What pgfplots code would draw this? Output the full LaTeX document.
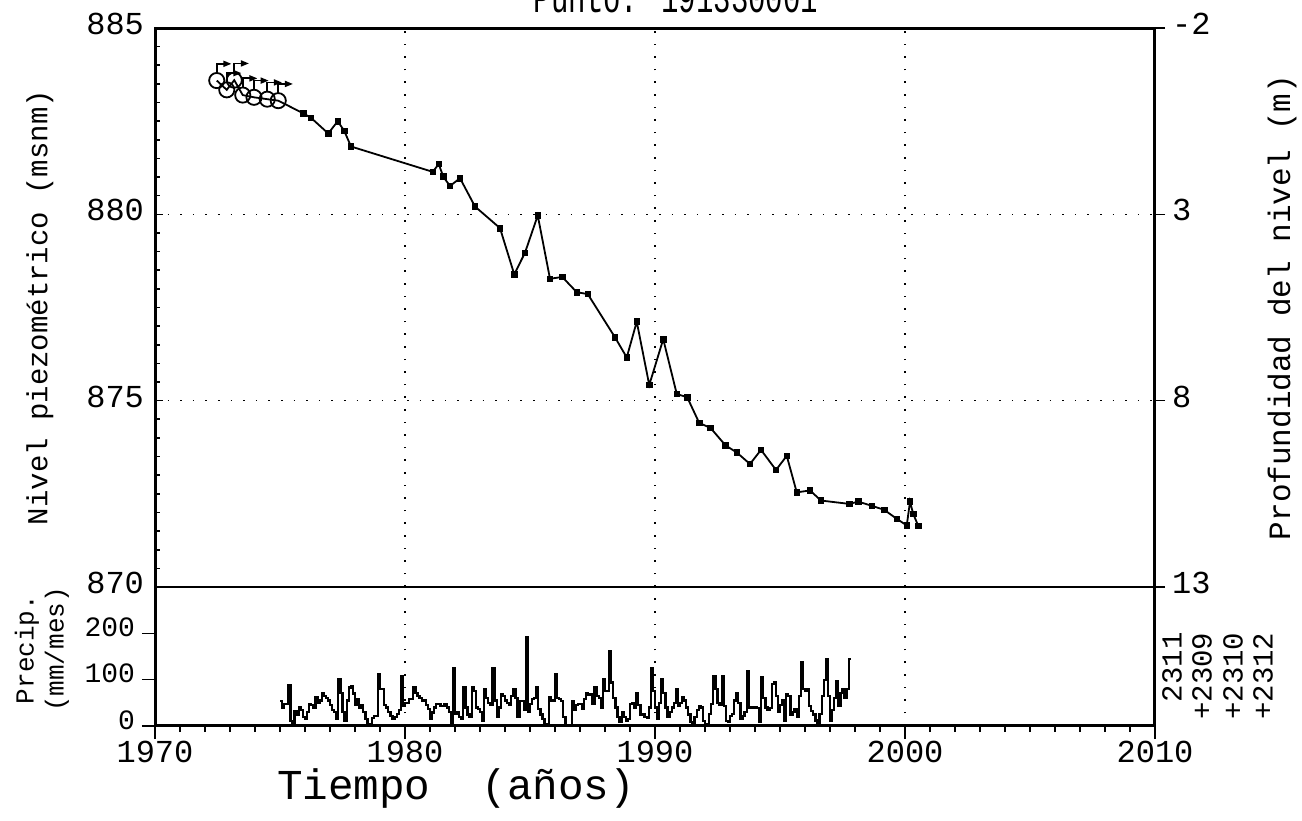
\documentclass[border=0pt]{standalone}
\usepackage{fontspec}
\setmainfont{Liberation Mono}
\usepackage{pgfplots}
\pgfplotsset{compat=1.18}
\usepackage{pgfplotstable}

\pgfdeclareplotmark{flagcircle}{%
  \pgfpathcircle{\pgfpointorigin}{\pgfplotmarksize}%
  \pgfusepathqstroke
  \pgfpathmoveto{\pgfqpoint{0pt}{\pgfplotmarksize}}%
  \pgfpathlineto{\pgfqpoint{0pt}{2.2\pgfplotmarksize}}%
  \pgfpathlineto{\pgfqpoint{1.1\pgfplotmarksize}{2.2\pgfplotmarksize}}%
  \pgfusepathqstroke
  \pgfpathmoveto{\pgfqpoint{1.0\pgfplotmarksize}{1.95\pgfplotmarksize}}%
  \pgfpathlineto{\pgfqpoint{1.6\pgfplotmarksize}{2.2\pgfplotmarksize}}%
  \pgfpathlineto{\pgfqpoint{1.0\pgfplotmarksize}{2.45\pgfplotmarksize}}%
  \pgfpathclose
  \pgfusepathqfillstroke
}

% level data: k=0 circle marks, k=1 square marks
\pgfplotstableread{
yr lev k
1972.47 883.59 0
1972.87 883.34 0
1973.17 883.60 0
1973.51 883.20 0
1973.96 883.14 0
1974.49 883.09 0
1974.93 883.05 0
1975.93 882.71 1
1976.24 882.59 1
1976.93 882.17 1
1977.31 882.50 1
1977.57 882.24 1
1977.84 881.82 1
1981.11 881.14 1
1981.35 881.35 1
1981.53 881.01 1
1981.80 880.76 1
1982.20 880.97 1
1982.80 880.21 1
1983.80 879.63 1
1984.37 878.39 1
1984.80 878.97 1
1985.31 879.97 1
1985.80 878.27 1
1986.29 878.32 1
1986.87 877.91 1
1987.31 877.86 1
1988.40 876.70 1
1988.87 876.16 1
1989.27 877.12 1
1989.77 875.42 1
1990.33 876.65 1
1990.87 875.18 1
1991.29 875.09 1
1991.77 874.40 1
1992.22 874.27 1
1992.82 873.80 1
1993.27 873.61 1
1993.80 873.30 1
1994.24 873.68 1
1994.84 873.14 1
1995.27 873.52 1
1995.67 872.54 1
1996.20 872.59 1
1996.64 872.32 1
1997.77 872.23 1
1998.13 872.29 1
1998.67 872.18 1
1999.17 872.07 1
1999.67 871.83 1
2000.07 871.65 1
2000.20 872.29 1
2000.33 871.96 1
2000.53 871.64 1
}\leveldata

% monthly precipitation from January 1975
\pgfplotstableread[row sep=\\]{
p\\
54\\40\\47\\47\\88\\10\\0\\33\\25\\40\\35\\19\\
15\\30\\47\\45\\40\\62\\50\\55\\72\\65\\60\\55\\
45\\35\\30\\15\\101\\72\\30\\10\\55\\83\\87\\70\\
45\\58\\40\\45\\30\\15\\4\\2\\18\\22\\22\\112\\
80\\80\\45\\40\\30\\22\\15\\20\\
26\\35\\108\\44\\50\\50\\58\\58\\83\\72\\
65\\60\\54\\56\\45\\37\\15\\29\\40\\47\\
47\\44\\44\\47\\40\\30\\4\\126\\26\\30\\
20\\15\\83\\40\\25\\20\\83\\76\\40\\37\\
30\\12\\80\\60\\50\\45\\126\\55\\20\\40\\
69\\65\\55\\50\\45\\65\\80\\60\\
19\\54\\54\\35\\191\\30\\47\\58\\60\\83\\
37\\25\\15\\5\\0\\62\\55\\55\\112\\60\\
58\\54\\20\\2\\0\\2\\54\\35\\45\\47\\
47\\37\\58\\72\\68\\68\\47\\83\\65\\60\\
40\\101\\76\\76\\162\\94\\60\\40\\19\\8\\
29\\20\\12\\15\\47\\50\\40\\
70\\45\\25\\26\\20\\18\\40\\126\\75\\40\\
15\\50\\101\\72\\40\\20\\30\\40\\50\\80\\
44\\50\\62\\55\\40\\25\\8\\3\\20\\35\\
44\\40\\10\\5\\4\\26\\47\\108\\80\\50\\
45\\108\\44\\10\\8\\22\\26\\55\\72\\50\\
15\\22\\30\\119\\40\\40\\40\\40\\
38\\8\\105\\60\\40\\35\\38\\90\\94\\65\\
30\\45\\55\\12\\69\\65\\25\\30\\37\\20\\
65\\137\\80\\75\\80\\44\\33\\25\\12\\0\\
26\\65\\100\\144\\65\\10\\35\\60\\97\\44\\
72\\80\\60\\80\\144\\144\\
}\precip

\pgfplotsset{
  gridstyle/.style={black, line width=0.8pt, dash pattern=on 0.8pt off 5.5pt},
}

\begin{document}
\begin{tikzpicture}
\useasboundingbox (0,0) rectangle (651pt,410pt);

% ---------- top panel: piezometric level ----------
\begin{axis}[
  at={(77.5pt,116.5pt)}, anchor=south west,
  scale only axis, width=500pt, height=279.5pt,
  xmin=1970, xmax=2010, ymin=870, ymax=885,
  xtick={1980,1990,2000}, xticklabels={}, xtick style={draw=none},
  ytick={870,875,880,885}, minor y tick num=9, ytick pos=left,
  tick align=inside, major tick length=4pt, minor tick length=2.5pt,
  tick style={black, line width=0.8pt},
  grid=major, major grid style={gridstyle},
  axis line style={line width=1pt},
  /pgf/number format/assume math mode=true,
  /pgf/number format/1000 sep={},
  yticklabel style={font=\fontsize{16}{18}\selectfont, xshift=-2pt, yshift=2pt},
  ylabel={Nivel piezométrico (msnm)},
  ylabel style={font=\fontsize{14.5}{16}\selectfont, at={(axis description cs:-0.115,0.5)}, anchor=center},
]
\addplot[black, line width=0.9pt, no marks] table[x=yr, y=lev] {\leveldata};
\addplot[black, only marks, mark=square*, mark size=1.4pt,
  restrict expr to domain={\thisrow{k}}{1:1}] table[x=yr, y=lev] {\leveldata};
\addplot[black, only marks, mark=flagcircle, mark size=3.8pt, line width=0.9pt,
  restrict expr to domain={\thisrow{k}}{0:0}] table[x=yr, y=lev] {\leveldata};
\draw[line width=2.2pt] (rel axis cs:0,0) |- (rel axis cs:1,1) -- (rel axis cs:1,0);
\end{axis}

% ---------- top panel right axis: depth ----------
\begin{axis}[
  at={(77.5pt,116.5pt)}, anchor=south west,
  scale only axis, width=500pt, height=279.5pt,
  xmin=1970, xmax=2010, ymin=-2, ymax=13, y dir=reverse,
  axis y line*=right, axis x line=none,
  ytick={-2,3,8,13},
  tick align=outside, major tick length=5pt,
  tick style={black, line width=0.8pt},
  axis line style={line width=1pt},
  /pgf/number format/assume math mode=true,
  yticklabel style={font=\fontsize{16}{18}\selectfont, yshift=2pt},
  ylabel={Profundidad del nivel (m)},
  ylabel style={font=\fontsize{15.5}{17}\selectfont, at={(axis description cs:1.127,0.5)}, anchor=center, rotate=0},
]
\end{axis}

% ---------- bottom panel: precipitation ----------
\begin{axis}[
  at={(77.5pt,47pt)}, anchor=south west,
  scale only axis, width=500pt, height=69.5pt,
  xmin=1970, xmax=2010, ymin=0, ymax=300,
  xtick={1970,1980,...,2010}, minor x tick num=9,
  ytick={0,100,200},
  xtick pos=bottom, ytick pos=left,
  tick align=outside, major tick length=6.5pt, minor tick length=3pt,
  tick style={black, line width=0.8pt},
  xmajorgrids, major grid style={gridstyle},
  axis line style={line width=1pt},
  /pgf/number format/assume math mode=true,
  /pgf/number format/1000 sep={},
  xticklabel style={font=\fontsize{16}{18}\selectfont, inner sep=1pt},
  yticklabel style={font=\fontsize{14}{16}\selectfont, yshift=3pt},
  ylabel={Precip.\\(mm/mes)},
  ylabel style={font=\fontsize{13}{15}\selectfont, align=center, at={(axis description cs:-0.113,0.55)}, anchor=center},
  xlabel={Tiempo~~(años)},
  xlabel style={font=\fontsize{21.3}{24}\selectfont, inner sep=0pt, at={(axis description cs:0.301,-0.45)}, anchor=center},
]
\addplot[black, line width=1.1pt, const plot, no marks] table[x expr={1975+\coordindex/12}, y=p] {\precip};
\draw[line width=2.2pt] (rel axis cs:0,1) -- (rel axis cs:0,0) -- (rel axis cs:1,0) -- (rel axis cs:1,1);
\end{axis}

% title (cut off at the top edge) and station labels
\node[anchor=base, font=\fontsize{14.5}{16}\selectfont, inner sep=0pt] at (338pt,403.5pt) {\scalebox{1}[1.5]{Punto: 191330001}};
\begin{scope}[every node/.style={rotate=90, anchor=west, inner sep=0pt, font=\fontsize{14.5}{16}\selectfont}]
\node at (586pt,50pt) {\phantom{+}2311};
\node at (601pt,50pt) {+2309};
\node at (616.5pt,50pt) {+2310};
\node at (631.5pt,50pt) {+2312};
\end{scope}
\end{tikzpicture}
\end{document}
